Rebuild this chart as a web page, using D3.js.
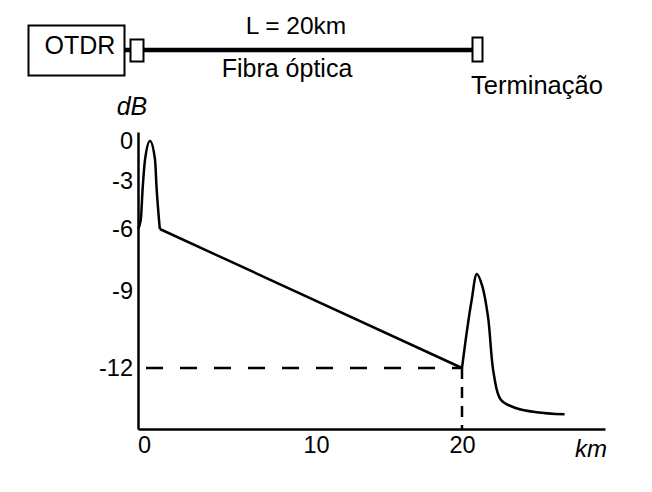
<!DOCTYPE html>
<html>
<head>
<meta charset="utf-8">
<script src="https://cdn.jsdelivr.net/npm/d3@7"></script>
<style>
  html, body { margin: 0; padding: 0; background: #fff; }
  svg { display: block; font-family: "Liberation Sans", Arial, sans-serif; }
  .tick text { font-family: "Liberation Sans", Arial, sans-serif; font-size: 23.5px; fill: #000; }
</style>
</head>
<body>
<svg id="chart" width="652" height="492"></svg>
<script>
// ---- data ----
const yTicks = [0, -3, -6, -9, -12];
const xTicks = [0, 10, 20];
// launch reflection (km, dB)
const peakStart = [[-0.35, -6.0], [-0.19, -5.44], [-0.075, -3.4], [0.06, -1.4], [0.35, 0], [0.64, -1.4], [0.73, -3.4], [0.87, -5.4], [0.92, -6.0]];
// fibre attenuation (km, dB)
const fibreLoss = [[0.92, -6.0], [20.0, -12.0]];
// end (Fresnel) reflection and noise tail (km, dB)
const peakEnd = [[20.0, -12.0], [20.32, -10.64], [20.67, -9.35], [21.03, -8.18], [21.4, -8.75], [21.8, -10.0], [22.2, -12.2], [22.7, -13.05], [23.77, -13.32], [25.15, -13.45], [27.1, -13.52]];
const markerKm = 20, markerDb = -12;

// ---- scales (hand-drawn figure: piecewise linear) ----
const svg = d3.select("#chart");
const x = d3.scaleLinear().domain([-0.35, 0, 10, 20, 29.9]).range([138, 144, 316, 462, 605]);
const y = d3.scaleLinear().domain([0.7, 0, -3, -6, -9, -12, -14]).range([132, 141, 181, 229, 291, 368, 429]);

// ---- schematic on top ----
const schem = svg.append("g");
schem.append("rect").attr("x", 28.5).attr("y", 25.5).attr("width", 96).attr("height", 50)
  .attr("fill", "none").attr("stroke", "#000").attr("stroke-width", 2);
schem.append("text").attr("x", 80).attr("y", 54).attr("text-anchor", "middle")
  .attr("font-size", 25).text("OTDR");
schem.append("line").attr("x1", 125).attr("x2", 477).attr("y1", 50).attr("y2", 50)
  .attr("stroke", "#000").attr("stroke-width", 4.5);
schem.append("rect").attr("x", 130.5).attr("y", 39.5).attr("width", 13).attr("height", 22)
  .attr("fill", "#fff").attr("stroke", "#000").attr("stroke-width", 2);
schem.append("rect").attr("x", 472.5).attr("y", 37.5).attr("width", 10).attr("height", 24)
  .attr("fill", "#fff").attr("stroke", "#000").attr("stroke-width", 2);
schem.append("text").attr("x", 296).attr("y", 34).attr("text-anchor", "middle")
  .attr("font-size", 24.5).text("L = 20km");
schem.append("text").attr("x", 287).attr("y", 77).attr("text-anchor", "middle")
  .attr("font-size", 25).text("Fibra óptica");
schem.append("text").attr("x", 537).attr("y", 94).attr("text-anchor", "middle")
  .attr("font-size", 25.5).text("Terminação");

// ---- axes ----
const yAxis = svg.append("g").attr("transform", `translate(${x(-0.35)},0)`)
  .call(d3.axisLeft(y).tickValues(yTicks).tickSize(0).tickPadding(5).tickFormat(d => String(d)));
const xAxis = svg.append("g").attr("transform", `translate(0,${y(-14)})`)
  .call(d3.axisBottom(x).tickValues(xTicks).tickSize(0).tickPadding(7).tickFormat(d => String(d)));
[yAxis, xAxis].forEach(g => {
  g.attr("font-size", null).attr("font-family", null);
  g.select(".domain").attr("stroke", "#000").attr("stroke-width", 2.5);
});
svg.append("text").attr("x", 132).attr("y", 115).attr("text-anchor", "middle")
  .attr("font-size", 25).attr("font-style", "italic").text("dB");
svg.append("text").attr("x", 591).attr("y", 457).attr("text-anchor", "middle")
  .attr("font-size", 24).attr("font-style", "italic").text("km");

// ---- dashed guides ----
svg.append("line").attr("x1", x(-0.35)).attr("x2", x(markerKm)).attr("y1", y(markerDb)).attr("y2", y(markerDb))
  .attr("stroke", "#000").attr("stroke-width", 2.5).attr("stroke-dasharray", "17,17").attr("stroke-dashoffset", -8);
svg.append("line").attr("x1", x(markerKm)).attr("x2", x(markerKm)).attr("y1", y(markerDb)).attr("y2", y(-14))
  .attr("stroke", "#000").attr("stroke-width", 2.5).attr("stroke-dasharray", "11,8");

// ---- trace ----
const smooth = d3.line().x(d => x(d[0])).y(d => y(d[1])).curve(d3.curveMonotoneX);
const smooth2 = d3.line().x(d => x(d[0])).y(d => y(d[1])).curve(d3.curveCatmullRom.alpha(0.5));
const straight = d3.line().x(d => x(d[0])).y(d => y(d[1]));
const trace = svg.append("g").attr("fill", "none").attr("stroke", "#000").attr("stroke-width", 2.5)
  .attr("stroke-linejoin", "miter");
trace.append("path").attr("d", smooth(peakStart));
trace.append("path").attr("d", straight(fibreLoss));
trace.append("path").attr("d", smooth2(peakEnd));
</script>
</body>
</html>
